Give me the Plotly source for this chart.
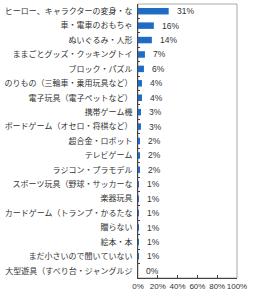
import plotly.graph_objects as go

categories = [
    "ヒーロー、キャラクターの変身・な",
    "車・電車のおもちゃ",
    "ぬいぐるみ・人形",
    "ままごとグッズ・クッキングトイ",
    "ブロック・パズル",
    "のりもの（三輪車・乗用玩具など）",
    "電子玩具（電子ペットなど）",
    "携帯ゲーム機",
    "ボードゲーム（オセロ・将棋など）",
    "超合金・ロボット",
    "テレビゲーム",
    "ラジコン・プラモデル",
    "スポーツ玩具（野球・サッカーな",
    "楽器玩具",
    "カードゲーム（トランプ・かるたな",
    "贈らない",
    "絵本・本",
    "まだ小さいので聞いていない",
    "大型遊具（すべり台・ジャングルジ",
]
values = [31, 16, 14, 7, 6, 4, 4, 3, 3, 2, 2, 2, 1, 1, 1, 1, 1, 1, 0]
x_ticks = [0, 20, 40, 60, 80, 100]
x_tick_labels = ["0%", "20%", "40%", "60%", "80%", "100%"]

fig = go.Figure()
fig.add_trace(go.Bar(
    x=values, y=categories, orientation="h",
    marker=dict(color="#1f6cc4", line=dict(width=0)),
    width=0.45,
    hoverinfo="skip",
))

for c, v in zip(categories, values):
    fig.add_annotation(
        x=v, y=c, text=f"{v}%", showarrow=False,
        xanchor="left", xshift=6,
        font=dict(size=8.5, color="#333333", family="Liberation Sans, Arial"),
    )

fig.add_shape(type="rect", xref="paper", yref="paper", x0=0, x1=1, y0=0, y1=1,
              line=dict(color="#aaaaaa", width=1), layer="below")

fig.update_layout(
    width=255, height=301,
    margin=dict(l=131, r=18, t=4, b=23),
    paper_bgcolor="white", plot_bgcolor="white",
    showlegend=False,
    font=dict(family="Noto Sans CJK JP", size=8, color="#333333"),
    bargap=0.55,
)
fig.update_xaxes(
    range=[0, 100], tickvals=x_ticks, ticktext=x_tick_labels,
    tickangle=0,
    showgrid=False, zeroline=False,
    showline=True, linecolor="#444444", linewidth=1,
    ticks="inside", ticklen=3, tickcolor="#444444",
    tickfont=dict(family="Liberation Sans, Arial", size=8, color="#333333"),
    fixedrange=True,
)
fig.update_yaxes(
    autorange="reversed", type="category",
    showgrid=False, zeroline=False,
    showline=True, linecolor="#444444", linewidth=1,
    ticks="inside", ticklen=2, tickcolor="#444444", tickson="boundaries",
    tickfont=dict(family="Noto Sans CJK JP", size=8, color="#333333"),
    ticklabelstandoff=3,
    fixedrange=True,
)

fig.write_html("out.html", config={"displayModeBar": False})
